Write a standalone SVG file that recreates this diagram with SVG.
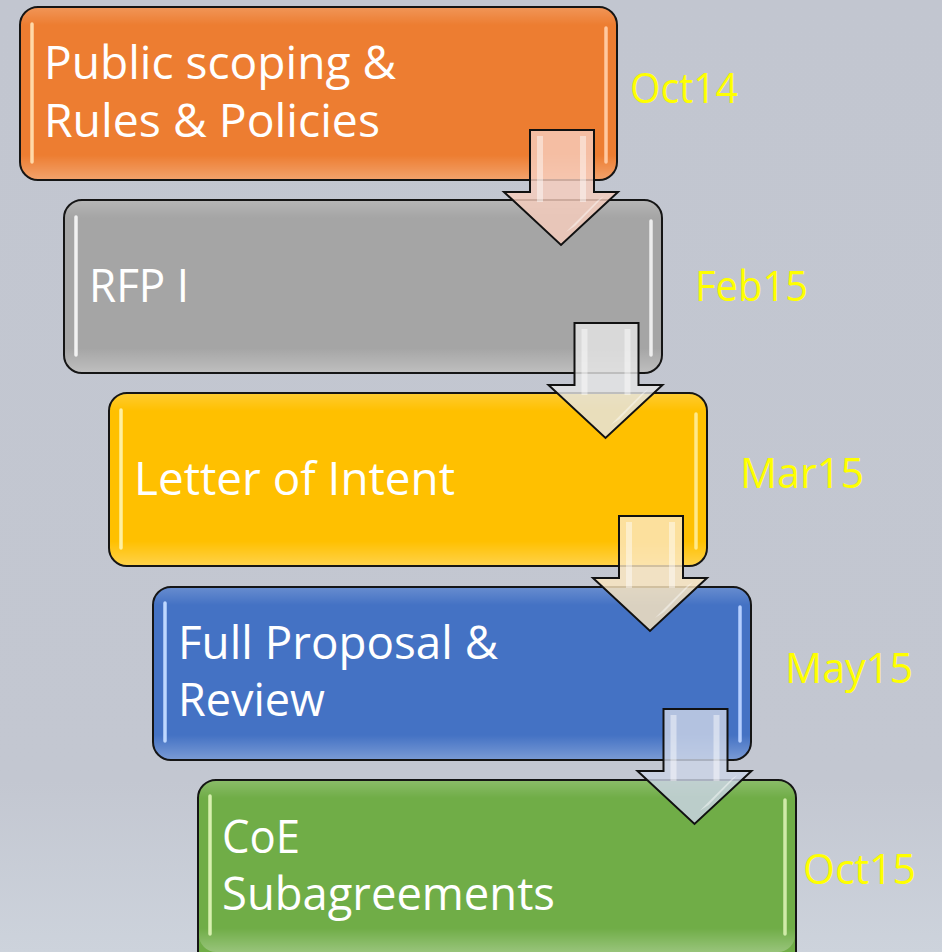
<svg xmlns="http://www.w3.org/2000/svg" width="942" height="952" viewBox="0 0 942 952">
<defs>
<linearGradient id="bg" x1="0" y1="0" x2="0" y2="1">
<stop offset="0" stop-color="#C2C6D0"/>
<stop offset="0.82" stop-color="#C3C7D1"/>
<stop offset="1" stop-color="#CDD3DC"/>
</linearGradient>
<linearGradient id="gloss" x1="0" y1="0" x2="0" y2="1">
<stop offset="0" stop-color="#FFFFFF" stop-opacity="0.18"/>
<stop offset="0.1" stop-color="#FFFFFF" stop-opacity="0"/>
<stop offset="0.86" stop-color="#FFFFFF" stop-opacity="0"/>
<stop offset="1" stop-color="#FFFFFF" stop-opacity="0.28"/>
</linearGradient>
<style>
.box{stroke:#151515;stroke-width:2}
.gl{fill:url(#gloss)}
.hl{stroke-width:3.5;stroke-linecap:round;fill:none}
.lbl{font-family:"Open Sans","Liberation Sans",sans-serif;font-size:45px;fill:#FFFFFF}
.date{font-family:"Open Sans","Liberation Sans",sans-serif;font-size:42px;fill:#FFFF00}
.arr{stroke:#111111;stroke-width:2;stroke-linejoin:miter;fill-opacity:0.82}
.ahl{fill:#FFFFFF;fill-opacity:0.45}
</style>
</defs>
<rect x="0" y="0" width="942" height="952" fill="url(#bg)"/>

<g id="node1">
<rect class="box" x="20" y="7" width="597" height="173" rx="18" fill="#ED7D31"/>
<rect class="gl" x="21" y="8" width="595" height="171" rx="17"/>
<line class="hl" x1="32" y1="24" x2="32" y2="162" stroke="#FFD9A8"/>
<line class="hl" x1="606" y1="28" x2="606" y2="162" stroke="#FFC9A0"/>
<text class="lbl" x="44" y="79" textLength="352" lengthAdjust="spacingAndGlyphs">Public scoping &amp;</text>
<text class="lbl" x="44" y="137" textLength="336" lengthAdjust="spacingAndGlyphs">Rules &amp; Policies</text>
</g>
<text id="date1" class="date" x="630" y="103" textLength="108" lengthAdjust="spacingAndGlyphs">Oct14</text>

<g id="node2">
<rect class="box" x="64" y="200" width="598" height="173" rx="18" fill="#A5A5A5"/>
<rect class="gl" x="65" y="201" width="596" height="171" rx="17"/>
<line class="hl" x1="76" y1="217" x2="76" y2="355" stroke="#F2F2F2"/>
<line class="hl" x1="651" y1="221" x2="651" y2="355" stroke="#EDEDED"/>
<text class="lbl" x="89" y="302" textLength="100" lengthAdjust="spacingAndGlyphs">RFP I</text>
</g>
<text id="date2" class="date" x="695" y="301" textLength="113" lengthAdjust="spacingAndGlyphs">Feb15</text>

<g id="node3">
<rect class="box" x="109" y="393" width="598" height="173" rx="18" fill="#FFC000"/>
<rect class="gl" x="110" y="394" width="596" height="171" rx="17"/>
<line class="hl" x1="121" y1="410" x2="121" y2="548" stroke="#FFF0A0"/>
<line class="hl" x1="696" y1="414" x2="696" y2="548" stroke="#FFE98A"/>
<text class="lbl" x="134" y="495" textLength="321" lengthAdjust="spacingAndGlyphs">Letter of Intent</text>
</g>
<text id="date3" class="date" x="740" y="488" textLength="124" lengthAdjust="spacingAndGlyphs">Mar15</text>

<g id="node4">
<rect class="box" x="153" y="587" width="598" height="173" rx="18" fill="#4472C4"/>
<rect class="gl" x="154" y="588" width="596" height="171" rx="17"/>
<line class="hl" x1="165" y1="603" x2="165" y2="741" stroke="#BFD8FF"/>
<line class="hl" x1="740" y1="607" x2="740" y2="741" stroke="#B5CFFF"/>
<text class="lbl" x="178" y="659" textLength="320" lengthAdjust="spacingAndGlyphs">Full Proposal &amp;</text>
<text class="lbl" x="178" y="716" textLength="147" lengthAdjust="spacingAndGlyphs">Review</text>
</g>
<text id="date4" class="date" x="785" y="683" textLength="128" lengthAdjust="spacingAndGlyphs">May15</text>

<g id="node5">
<rect class="box" x="198" y="780" width="598" height="190" rx="18" fill="#70AD47"/>
<rect class="gl" x="199" y="781" width="596" height="171" rx="17"/>
<line class="hl" x1="210" y1="796" x2="210" y2="934" stroke="#D8F0B0"/>
<line class="hl" x1="785" y1="800" x2="785" y2="934" stroke="#D0EBA8"/>
<text class="lbl" x="222" y="853" textLength="78" lengthAdjust="spacingAndGlyphs">CoE</text>
<text class="lbl" x="222" y="910" textLength="333" lengthAdjust="spacingAndGlyphs">Subagreements</text>
</g>
<text id="date5" class="date" x="803" y="884" textLength="113" lengthAdjust="spacingAndGlyphs">Oct15</text>

<g id="connectors">
<g transform="translate(0,0)">
<path class="arr" d="M530 130H594V192H618L561 245L504 192H530Z" fill="#F6CDBD"/>
<rect class="ahl" x="537" y="136" width="6" height="66"/>
<rect class="ahl" x="580" y="136" width="6" height="66"/>
<path class="ahl" d="M604 196L575 226L566 232L598 200Z"/>
</g>
<g transform="translate(44.5,193)">
<path class="arr" d="M530 130H594V192H618L561 245L504 192H530Z" fill="#E4E4E4"/>
<rect class="ahl" x="537" y="136" width="6" height="66"/>
<rect class="ahl" x="580" y="136" width="6" height="66"/>
<path class="ahl" d="M604 196L575 226L566 232L598 200Z"/>
</g>
<g transform="translate(89,386)">
<path class="arr" d="M530 130H594V192H618L561 245L504 192H530Z" fill="#FBE6C0"/>
<rect class="ahl" x="537" y="136" width="6" height="66"/>
<rect class="ahl" x="580" y="136" width="6" height="66"/>
<path class="ahl" d="M604 196L575 226L566 232L598 200Z"/>
</g>
<g transform="translate(133.5,579)">
<path class="arr" d="M530 130H594V192H618L561 245L504 192H530Z" fill="#CCD4E6"/>
<rect class="ahl" x="537" y="136" width="6" height="66"/>
<rect class="ahl" x="580" y="136" width="6" height="66"/>
<path class="ahl" d="M604 196L575 226L566 232L598 200Z"/>
</g>
</g>
</svg>
